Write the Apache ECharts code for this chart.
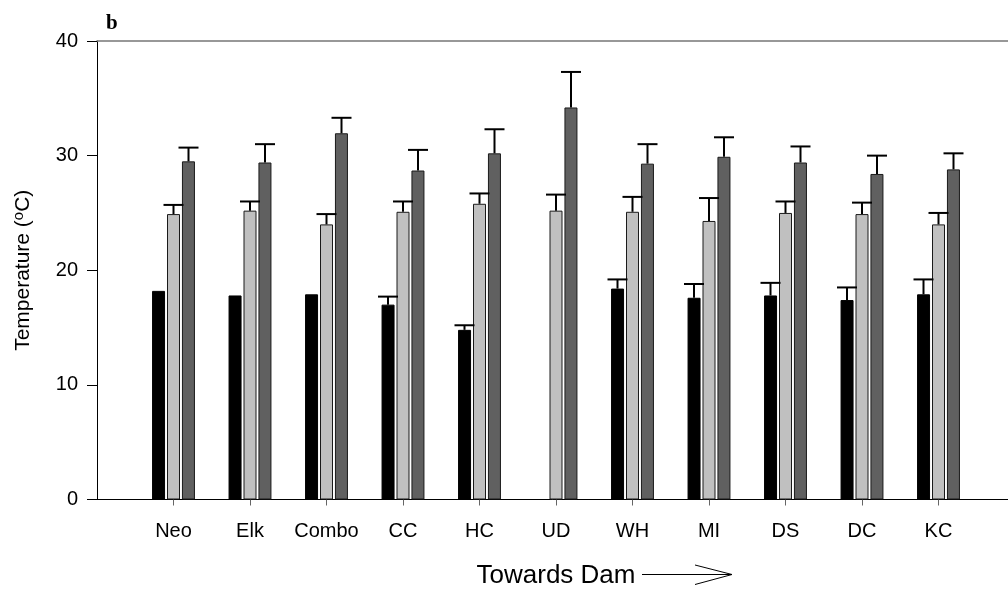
<!DOCTYPE html>
<html>
<head>
<meta charset="utf-8">
<script src="https://cdn.jsdelivr.net/npm/echarts@6/dist/echarts.min.js"></script>
<style>html,body{margin:0;padding:0;background:#fff}#c{width:1008px;height:589px}</style>
</head>
<body>
<div id="c"></div>
<script>
const categories = ['Neo','Elk','Combo','CC','HC','UD','WH','MI','DS','DC','KC'];
const blackVals  = [18.2, 17.8, 17.9, 17.0, 14.8, null, 18.4, 17.6, 17.8, 17.4, 17.9];
const blackUpper = [null, null, null, 17.7, 15.2, null, 19.2, 18.8, 18.9, 18.5, 19.2];
const lightVals  = [24.9, 25.2, 24.0, 25.1, 25.8, 25.2, 25.1, 24.3, 25.0, 24.9, 24.0];
const lightUpper = [25.7, 26.0, 24.9, 26.0, 26.7, 26.6, 26.4, 26.3, 26.0, 25.9, 25.0];
const darkVals   = [29.5, 29.4, 31.95, 28.7, 30.2, 34.2, 29.3, 29.9, 29.4, 28.4, 28.8];
const darkUpper  = [30.7, 31.0, 33.3, 30.5, 32.3, 37.3, 31.0, 31.6, 30.8, 30.0, 30.2];

const axisCats = [''].concat(categories, ['']);
const pad = arr => ['-'].concat(arr.map(v => v == null ? '-' : v), ['-']);

function errData(vals, upper) {
  const out = [];
  vals.forEach((v, i) => { if (v != null && upper[i] != null) out.push([i + 1, v, upper[i]]); });
  return out;
}
function errSeries(vals, upper, offset) {
  return {
    type: 'custom',
    silent: true,
    z: 5,
    data: errData(vals, upper),
    renderItem: function (params, api) {
      const p0 = api.coord([api.value(0), api.value(1)]);
      const p1 = api.coord([api.value(0), api.value(2)]);
      const x = p0[0] + offset;
      const st = { stroke: '#000', lineWidth: 2, fill: null };
      return {
        type: 'group',
        children: [
          { type: 'line', shape: { x1: x, y1: p0[1], x2: x, y2: p1[1] }, style: st },
          { type: 'line', shape: { x1: x - 10, y1: p1[1], x2: x + 10, y2: p1[1] }, style: st }
        ]
      };
    }
  };
}

const font = "'Liberation Sans', Arial, sans-serif";
const chart = echarts.init(document.getElementById('c'), null, { renderer: 'canvas' });
chart.setOption({
  animation: false,
  backgroundColor: '#fff',
  grid: { left: 97, width: 918, top: 41, bottom: 89.5, containLabel: false, outerBoundsMode: 'none' },
  xAxis: [{
    type: 'category',
    data: axisCats,
    boundaryGap: false,
    axisLine: { lineStyle: { color: '#000', width: 1 } },
    axisTick: { show: true, length: 6, lineStyle: { color: '#666' }, interval: function (i) { return i > 0 && i < axisCats.length - 1; } },
    axisLabel: { interval: 0, margin: 22, fontSize: 20, color: '#000', fontFamily: font },
    splitLine: { show: false },
    name: 'Towards Dam',
    nameLocation: 'middle',
    nameGap: 63,
    nameTextStyle: { fontSize: 26, color: '#000', fontFamily: font }
  }, {
    type: 'category',
    position: 'top',
    data: axisCats,
    boundaryGap: false,
    axisLine: { show: true, lineStyle: { color: '#777', width: 1.5 } },
    axisTick: { show: false },
    axisLabel: { show: false }
  }],
  yAxis: {
    type: 'value',
    min: 0, max: 40, interval: 10,
    axisLine: { show: true, lineStyle: { color: '#000', width: 1 } },
    axisTick: { show: true, length: 10, lineStyle: { color: '#000' } },
    axisLabel: { margin: 19, fontSize: 20, color: '#000', fontFamily: font,
      formatter: function (v) { return String(v); } },
    splitLine: { show: false },
    name: 'Temperature ({s|o}C)',
    nameLocation: 'middle',
    nameRotate: 90,
    nameGap: 61,
    nameTextStyle: { fontSize: 21, color: '#000', fontFamily: font,
      rich: { s: { fontSize: 15, fontFamily: font, color: '#000', padding: [0, 0, 10, 0] } } }
  },
  title: {
    text: 'b', left: 101, top: 8,
    textStyle: { fontFamily: "'Liberation Serif', 'DejaVu Serif', serif", fontWeight: 'bold', fontSize: 21, color: '#000' }
  },
  graphic: [{
    type: 'group',
    children: [
      { type: 'line', shape: { x1: 642, y1: 574.5, x2: 732, y2: 574.5 }, style: { stroke: '#000', lineWidth: 1 } },
      { type: 'polyline', shape: { points: [[695, 565], [732, 574.5], [695, 584.5]] }, style: { stroke: '#000', lineWidth: 1, fill: null } }
    ]
  }],
  series: [
    { type: 'bar', data: pad(blackVals), barWidth: 13, barGap: '15%',
      itemStyle: { color: '#000', borderColor: '#000', borderWidth: 1 } },
    { type: 'bar', data: pad(lightVals), barWidth: 13, barGap: '15%',
      itemStyle: { color: '#c0c0c0', borderColor: '#1a1a1a', borderWidth: 1 } },
    { type: 'bar', data: pad(darkVals), barWidth: 13, barGap: '15%',
      itemStyle: { color: '#606060', borderColor: '#1a1a1a', borderWidth: 1 } },
    errSeries(blackVals, blackUpper, -15),
    errSeries(lightVals, lightUpper, 0),
    errSeries(darkVals, darkUpper, 15)
  ]
});
</script>
</body>
</html>
